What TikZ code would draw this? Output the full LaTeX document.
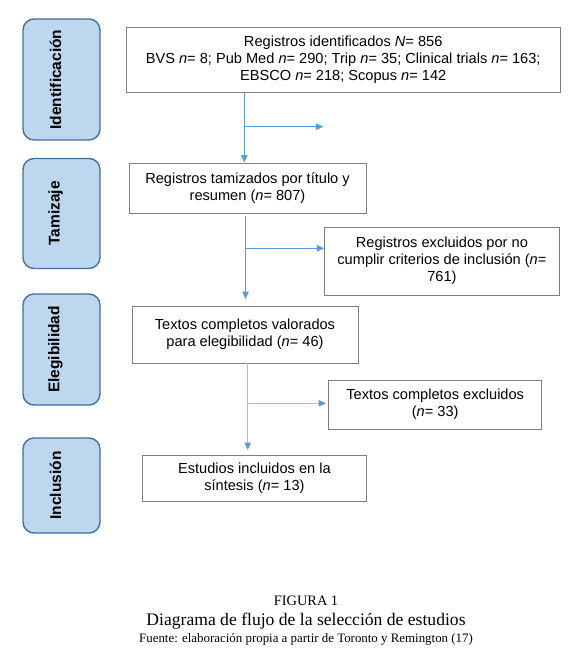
\documentclass[tikz,border=0pt]{standalone}
\usepackage{fontspec}
\setmainfont{Liberation Sans}
\newfontfamily\capfont{Liberation Serif}
\usetikzlibrary{arrows.meta}
\definecolor{arrowblue}{HTML}{5B9BD5}
\definecolor{lightarrow}{HTML}{A3C1DF}
\definecolor{sidefill}{HTML}{BDD7EE}
\definecolor{sideborder}{HTML}{41719C}
\definecolor{boxborder}{HTML}{7F7F7F}
\tikzset{
  x=1pt, y=-1pt,
  mainbox/.style={draw=boxborder, line width=0.9pt, fill=white, align=center,
    inner sep=0pt, font=\fontsize{14.6}{16.8}\selectfont},
  sidebox/.style={draw=sideborder, line width=1.4pt, fill=sidefill, rounded corners=11pt,
    minimum width=77pt, inner sep=0pt},
  sidelabel/.style={rotate=90, xshift=0pt, yshift=6pt, font=\fontsize{15.5}{18}\selectfont\bfseries},
  arr/.style={draw=arrowblue, line width=1pt, -{Triangle[length=7.5pt,width=6.5pt]}},
  arrlight/.style={draw=lightarrow, line width=1pt, -{Triangle[length=7.5pt,width=6.5pt,color=arrowblue]}},
}
\begin{document}
\begin{tikzpicture}
\useasboundingbox (0,0) rectangle (587,652);
\fill[white] (0,0) rectangle (587,652);

% side boxes
\node[sidebox, minimum height=121pt] (s1) at (61.5,79.5) {};
\node[sidelabel] (l1) at (s1.center) {Identificación};
\node[sidebox, minimum height=110pt] (s2) at (61.5,213.5) {};
\node[sidelabel] (l2) at (s2.center) {Tamizaje};
\node[sidebox, minimum height=111pt] (s3) at (61.5,349.5) {};
\node[sidelabel] (l3) at (s3.center) {Elegibilidad};
\node[sidebox, minimum height=95pt] (s4) at (61.5,485.5) {};
\node[sidelabel] (l4) at (s4.center) {Inclusión};

% main boxes
\node[mainbox, minimum width=433.6pt, minimum height=65pt] (b1) at (343.2,59.5)
  {Registros identificados \textit{N}= 856\\
   BVS \textit{n}= 8; Pub Med \textit{n}= 290; Trip \textit{n}= 35; Clinical trials \textit{n}= 163;\\
   EBSCO \textit{n}= 218; Scopus \textit{n}= 142};
\node[mainbox, minimum width=237pt, minimum height=50pt] (b2) at (247.5,188)
  {Registros tamizados por título y\\ resumen (\textit{n}= 807)};
\node[mainbox, minimum width=234.3pt, minimum height=68pt] (b3) at (441.9,261)
  {Registros excluidos por no\\ cumplir criterios de inclusión (\textit{n}=\\ 761)};
\node[mainbox, minimum width=226pt, minimum height=57pt] (b4) at (245,334.5)
  {Textos completos valorados\\ para elegibilidad (\textit{n}= 46)};
\node[mainbox, minimum width=213pt, minimum height=49pt] (b5) at (435.2,404.5)
  {Textos completos excluidos\\ (\textit{n}= 33)};
\node[mainbox, minimum width=224.4pt, minimum height=46pt] (b6) at (254.4,478)
  {Estudios incluidos en la\\ síntesis (\textit{n}= 13)};

% connector guide coordinates
\coordinate (c1) at (244.3,126.7);
\coordinate (e1) at (323.3,126.7);
\coordinate (c2top) at (245.5,216);
\coordinate (c2) at (245.5,248.3);
\coordinate (c2end) at (245.5,299);
\coordinate (c3) at (247.7,403.3);
\coordinate (c3end) at (247.7,450);
\coordinate (e3) at (326,403.3);

% connectors
\draw[arr] (b1.south -| c1) -- (b2.north -| c1);
\draw[arr] (c1) -- (e1);
\draw[arr] (c2top) -- (c2end);
\draw[arr] (c2) -- (b3.west |- c2);
\draw[arrlight] (b4.south -| c3) -- (c3end);
\draw[arrlight] (c3) -- (e3);

% caption
\node[font=\capfont\fontsize{14.4}{16}\selectfont] (cap1) at (306,601) {FIGURA 1};
\node[font=\capfont\fontsize{17.6}{19}\selectfont] (cap2) at (306,621) {Diagrama de flujo de la selección de estudios};
\node[font=\capfont\fontsize{12.9}{14}\selectfont] (cap3) at (306,639) {Fuente: elaboración propia a partir de Toronto y Remington (17)};
\end{tikzpicture}
\end{document}
